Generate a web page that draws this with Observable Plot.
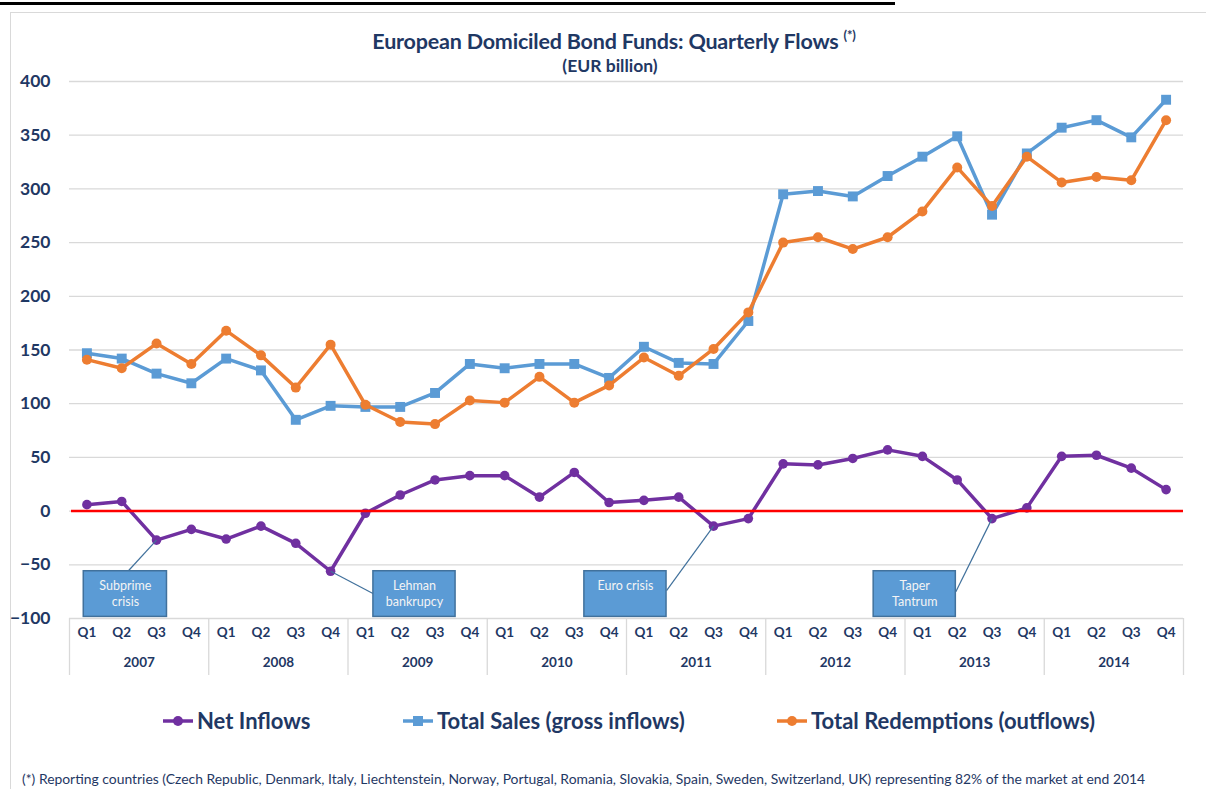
<!DOCTYPE html>
<html>
<head>
<meta charset="utf-8">
<script src="https://cdn.jsdelivr.net/npm/d3@7"></script>
<script src="https://cdn.jsdelivr.net/npm/@observablehq/plot@0.6"></script>
<style>
  body { margin: 0; background: #fff; font-family: Lato, "Open Sans", sans-serif; }
  #page { position: relative; width: 1206px; height: 789px; overflow: hidden; background: #fff; }
  .topbar { position: absolute; left: 0; top: 2px; width: 895px; height: 2.5px; background: #000; }
  .frame { position: absolute; left: 10px; top: 12px; right: 0; bottom: 0; border-left: 1.5px solid #d9d9d9; border-top: 1.5px solid #d9d9d9; }
  .title { position: absolute; left: 614px; top: 29px; transform: translateX(-50%); white-space: nowrap;
           font-size: 21.5px; line-height: 24px; height: 24px; font-weight: bold; color: #1F3864; letter-spacing: -0.2px; }
  .title .sup { font-size: 13px; vertical-align: baseline; position: relative; top: -9px; }
  .subtitle { position: absolute; left: 610px; top: 57px; transform: translateX(-50%); white-space: nowrap;
              font-size: 17.5px; line-height: 18px; font-weight: bold; color: #1F3864; }
  #chart { position: absolute; left: 0; top: 76px; }
  .leg { position: absolute; top: 707px; display: flex; align-items: center; white-space: nowrap;
         font-size: 22px; font-weight: bold; color: #1F3864; }
  .leg svg { margin-right: 4px; }
  .foot { position: absolute; left: 22px; top: 770px; white-space: nowrap; font-size: 13.9px; color: #1F3864; }
</style>
</head>
<body>
<div id="page">
  <div class="topbar"></div>
  <div class="frame"></div>
  <div class="title">European Domiciled Bond Funds: Quarterly Flows <span class="sup">(*)</span></div>
  <div class="subtitle">(EUR billion)</div>
  <div id="chart"></div>
  <div id="legend"></div>
  <div class="foot">(*) Reporting countries (Czech Republic, Denmark, Italy, Liechtenstein, Norway, Portugal, Romania, Slovakia, Spain, Sweden, Switzerland, UK) representing 82% of the market at end 2014</div>
</div>
<script>
// ---------- data ----------
const years = [2007, 2008, 2009, 2010, 2011, 2012, 2013, 2014];
const quarters = ["Q1", "Q2", "Q3", "Q4"];
const netInflows = [6, 9, -27, -17, -26, -14, -30, -56, -2, 15, 29, 33, 33, 13, 36, 8,
                    10, 13, -14, -7, 44, 43, 49, 57, 51, 29, -7, 3, 51, 52, 40, 20];
const totalSales = [147, 142, 128, 119, 142, 131, 85, 98, 97, 97, 110, 137, 133, 137, 137, 124,
                    153, 138, 137, 177, 295, 298, 293, 312, 330, 349, 276, 333, 357, 364, 348, 383];
const totalRedemptions = [141, 133, 156, 137, 168, 145, 115, 155, 99, 83, 81, 103, 101, 125, 101, 117,
                          143, 126, 151, 185, 250, 255, 244, 255, 279, 320, 284, 330, 306, 311, 308, 364];
const yTicks = [-100, -50, 0, 50, 100, 150, 200, 250, 300, 350, 400];
const seriesNames = ["Net Inflows", "Total Sales (gross inflows)", "Total Redemptions (outflows)"];
const seriesColors = ["#7030A0", "#5B9BD5", "#ED7D31"];
// annotation callouts: label, point index on net inflows, box extent (index units / EUR bn), leader start
const annLabels = ["Subprime\ncrisis", "Lehman\nbankrupcy", "Euro crisis", "Taper\nTantrum"];
const annPoint  = [2, 7, 18, 26];
const annBoxX1  = [-0.09, 8.23, 14.29, 22.6];
const annBoxX2  = [2.3, 10.59, 16.65, 24.96];
const annBoxTop = -56, annBoxBottom = -98.5;
const annLeadX  = [1.18, 8.23, 16.65, 24.96];
const annLeadY  = [-56, -77, -74, -75];

// ---------- build tables ----------
const navy = "#1F3864";
const rows = [];
years.forEach((yr, yi) => quarters.forEach((q, qi) => {
  const i = yi * 4 + qi;
  rows.push({i, year: yr, q, net: netInflows[i], sales: totalSales[i], red: totalRedemptions[i]});
}));
const yearRows = years.map((yr, yi) => ({year: String(yr), c: yi * 4 + 1.5}));
const yearBounds = d3.range(years.length + 1).map(k => k * 4 - 0.5);
const anns = annLabels.map((t, k) => ({
  t, x1: annBoxX1[k], x2: annBoxX2[k], lx: annLeadX[k], ly: annLeadY[k],
  px: annPoint[k], py: netInflows[annPoint[k]]
}));

const chart = Plot.plot({
  width: 1206,
  height: 614,
  marginLeft: 69,
  marginRight: 23,
  marginTop: 5,
  marginBottom: 72,
  style: {fontFamily: "Lato, 'Open Sans', sans-serif", overflow: "visible", background: "transparent"},
  x: {type: "linear", domain: [-0.5, years.length * 4 - 0.5], axis: null},
  y: {domain: [-100, 400], axis: null},
  marks: [
    Plot.gridY(yTicks, {stroke: "#d9d9d9", strokeOpacity: 1, strokeWidth: 1.3}),
    Plot.axisY(yTicks, {anchor: "left", tickSize: 0, tickPadding: 19, fontSize: 17.5, fontWeight: "bold", fill: navy}),
    Plot.axisX(yearBounds, {anchor: "bottom", tickSize: 57, tickFormat: () => "", stroke: "#d9d9d9", strokeOpacity: 1, strokeWidth: 1.3}),
    Plot.text(rows, {x: "i", text: "q", frameAnchor: "bottom", dy: 18, fontSize: 13.5, fontWeight: "bold", fill: navy}),
    Plot.text(yearRows, {x: "c", text: "year", frameAnchor: "bottom", dy: 48, fontSize: 13.5, fontWeight: "bold", fill: navy}),
    // series
    Plot.line(rows, {x: "i", y: "net", stroke: seriesColors[0], strokeWidth: 3.5}),
    Plot.dot(rows, {x: "i", y: "net", r: 4.8, fill: seriesColors[0], symbol: "circle"}),
    Plot.ruleY([0], {stroke: "#FF0000", strokeWidth: 2.5, insetLeft: 2}),
    Plot.line(rows, {x: "i", y: "sales", stroke: seriesColors[1], strokeWidth: 3.5}),
    Plot.dot(rows, {x: "i", y: "sales", r: 5.6, fill: seriesColors[1], symbol: "square"}),
    Plot.line(rows, {x: "i", y: "red", stroke: seriesColors[2], strokeWidth: 3.5}),
    Plot.dot(rows, {x: "i", y: "red", r: 5, fill: seriesColors[2], symbol: "circle"}),
    // annotations
    Plot.link(anns, {x1: "lx", y1: "ly", x2: "px", y2: "py", stroke: "#41719C", strokeWidth: 1.2}),
    Plot.rect(anns, {x1: "x1", x2: "x2", y1: annBoxTop, y2: annBoxBottom, fill: "#5B9BD5", stroke: "#41719C", strokeWidth: 1.5}),
    Plot.text(anns, {x: d => (d.x1 + d.x2) / 2, y: annBoxTop, text: "t", lineAnchor: "top", dy: 7,
                     lineHeight: 1.3, fontSize: 12.5, fill: "#f4f4f4"})
  ]
});
document.getElementById("chart").appendChild(chart);

// ---------- legend ----------
const legLeft = [163, 403, 777];
const page = document.getElementById("page");
seriesNames.forEach((name, k) => {
  const div = document.createElement("div");
  div.className = "leg";
  div.style.left = legLeft[k] + "px";
  const sym = k === 1
    ? `<rect x="10" y="2" width="10" height="10" fill="${seriesColors[k]}"/>`
    : `<circle cx="15" cy="7" r="5" fill="${seriesColors[k]}"/>`;
  div.innerHTML = `<svg width="30" height="14"><line x1="0" x2="30" y1="7" y2="7" stroke="${seriesColors[k]}" stroke-width="3.5"/>${sym}</svg><span>${name}</span>`;
  page.appendChild(div);
});
</script>
</body>
</html>
